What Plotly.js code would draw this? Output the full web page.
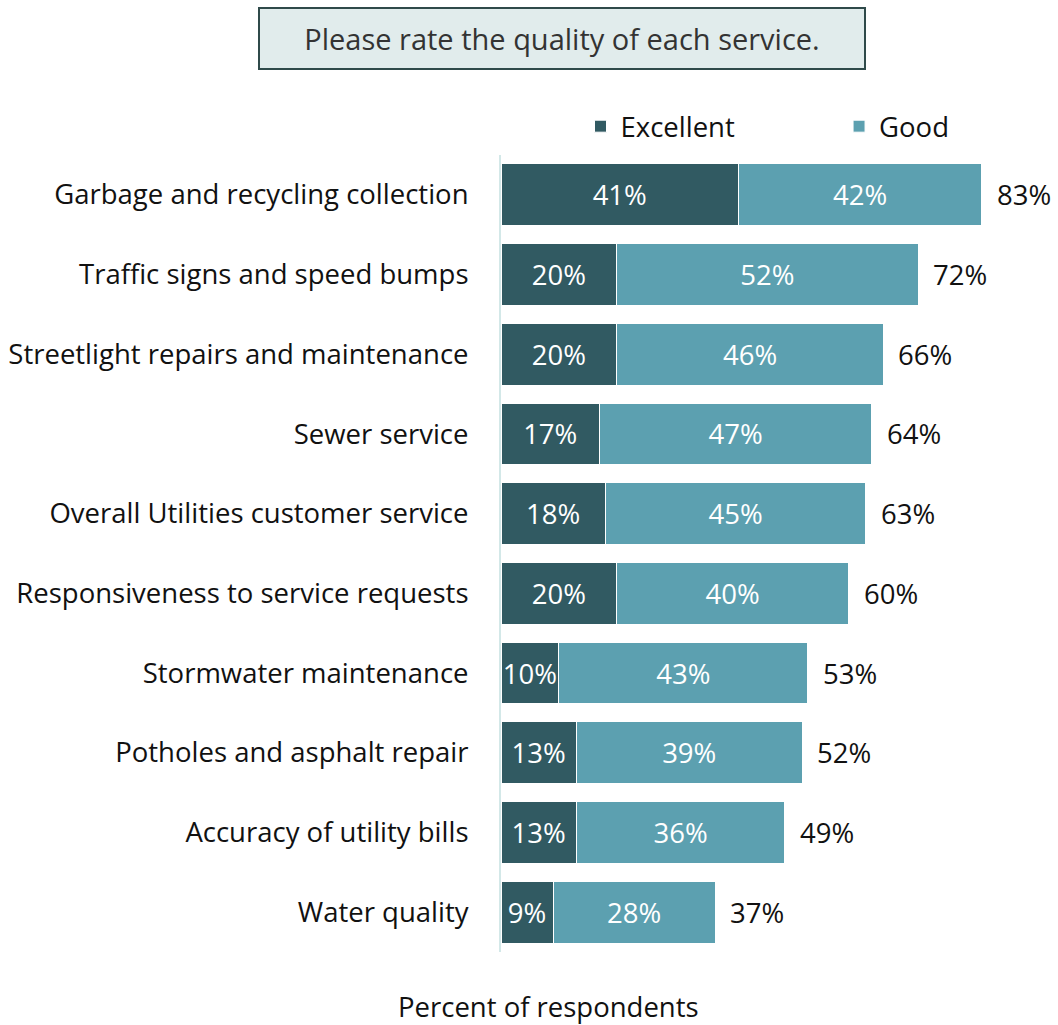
<!DOCTYPE html>
<html>
<head>
<meta charset="utf-8">
<script src="https://cdn.plot.ly/plotly-3.0.1.min.js"></script>
<style>html,body{margin:0;padding:0;background:#fff}#chart{width:1058px;height:1025px}</style>
</head>
<body>
<div id="chart"></div>
<script>
const categories = [
  "Garbage and recycling collection",
  "Traffic signs and speed bumps",
  "Streetlight repairs and maintenance",
  "Sewer service",
  "Overall Utilities customer service",
  "Responsiveness to service requests",
  "Stormwater maintenance",
  "Potholes and asphalt repair",
  "Accuracy of utility bills",
  "Water quality"
];
const excellent = [41, 20, 20, 17, 18, 20, 10, 13, 13, 9];
const good = [42, 52, 46, 47, 45, 40, 43, 39, 36, 28];
const totals = [83, 72, 66, 64, 63, 60, 53, 52, 49, 37];
const seriesNames = ["Excellent", "Good"];
const chartTitle = "Please rate the quality of each service.";
const xTitle = "Percent of respondents";

const FONT = "Open Sans, Noto Sans, sans-serif";
const FS = 27.5;

const common = {
  type: "bar",
  orientation: "h",
  y: categories,
  texttemplate: "%{x}%",
  textposition: "inside",
  insidetextanchor: "middle",
  textangle: 0,
  constraintext: "none",
  insidetextfont: {family: FONT, size: FS, color: "#ffffff"},
  hoverinfo: "skip"
};

const traces = [
  Object.assign({}, common, {
    name: seriesNames[0], x: excellent, legend: "legend",
    marker: {color: "#315a62", line: {color: "#ffffff", width: 1}}
  }),
  Object.assign({}, common, {
    name: seriesNames[1], x: good, legend: "legend2",
    marker: {color: "#5ca0b0", line: {color: "#ffffff", width: 1}}
  })
];

const annotations = categories.map((c, i) => ({
  x: totals[i], y: c, xref: "x", yref: "y",
  text: totals[i] + "%", showarrow: false,
  xanchor: "left", xshift: 13,
  font: {family: FONT, size: FS, color: "#111111"}
}));

annotations.push({
  xref: "paper", yref: "paper", x: 0.11, y: 1.146,
  xanchor: "center", yanchor: "middle",
  text: chartTitle, showarrow: false,
  font: {family: FONT, size: 29, color: "#333333"},
  bgcolor: "#e1ecec", bordercolor: "#2f4a4a", borderwidth: 2,
  width: 604, height: 59, borderpad: 0
});

annotations.push({
  xref: "paper", yref: "paper", x: 0.086, y: -0.069,
  xanchor: "center", yanchor: "middle",
  text: xTitle, showarrow: false,
  font: {family: FONT, size: FS, color: "#111111"}
});

const legendBase = {
  orientation: "h", y: 1.036, xanchor: "left", yanchor: "middle",
  font: {family: FONT, size: FS, color: "#111111"},
  bgcolor: "rgba(0,0,0,0)", borderwidth: 0, itemwidth: 30
};

const layout = {
  width: 1058, height: 1025,
  margin: {l: 501, r: 1, t: 155, b: 73},
  paper_bgcolor: "#ffffff", plot_bgcolor: "#ffffff",
  barmode: "stack",
  bargap: 0.225,
  font: {family: FONT, size: FS, color: "#111111"},
  showlegend: true,
  legend: Object.assign({}, legendBase, {x: 0.143}),
  legend2: Object.assign({}, legendBase, {x: 0.608}),
  xaxis: {
    range: [0, 96], showgrid: false, zeroline: false,
    showticklabels: false, showline: false, fixedrange: true
  },
  yaxis: {
    autorange: "reversed", showgrid: false, zeroline: false,
    showline: true, linecolor: "#d3e8e8", linewidth: 2,
    ticks: "outside", ticklen: 25, tickcolor: "rgba(0,0,0,0)",
    tickfont: {family: FONT, size: FS, color: "#111111"}
  },
  annotations: annotations
};

Plotly.newPlot("chart", traces, layout, {displayModeBar: false, staticPlot: true});
</script>
</body>
</html>
